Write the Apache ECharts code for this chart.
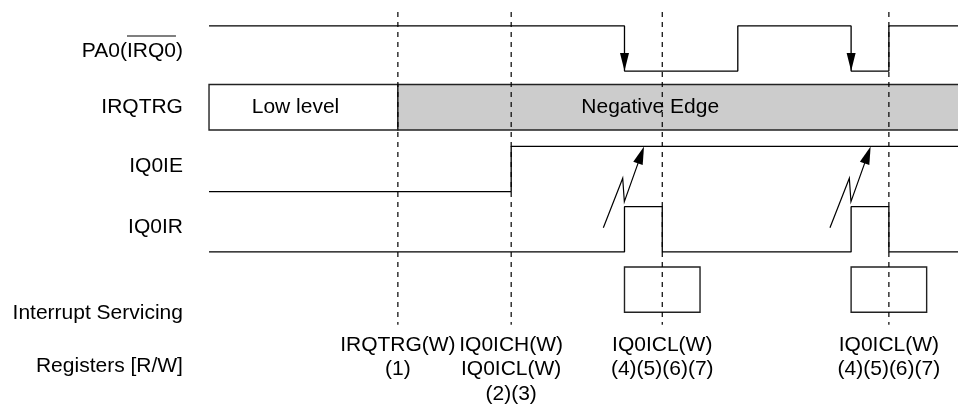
<!DOCTYPE html>
<html><head><meta charset="utf-8">
<script src="https://cdn.jsdelivr.net/npm/echarts@6/dist/echarts.min.js"></script>
<style>html,body{margin:0;padding:0;background:#fff}#c{width:958px;height:408px}</style>
</head><body><div id="c"></div>
<script>
// ---- data ----
const signalNames = ['PA0(IRQ0)', 'IRQTRG', 'IQ0IE', 'IQ0IR', 'Interrupt Servicing', 'Registers [R/W]'];
const timeEnd = 19.83;
const pa0Times = [0, 11, 14, 17, 18];
const pa0Levels = [1, 0, 1, 0, 1];
const irqtrgTimes = [0, 5];
const irqtrgLabels = ['Low level', 'Negative Edge'];
const irqtrgLabelAt = [2.29, 11.68];
const iq0ieTimes = [0, 8];
const iq0ieLevels = [0, 1];
const iq0irTimes = [0, 11, 12, 17, 18];
const iq0irLevels = [0, 1, 0, 1, 0];
const serviceStarts = [11, 17];
const serviceEnds = [13, 19];
const eventTimes = [5, 8, 12, 18];
const registerLines = [['IRQTRG(W)', '(1)'], ['IQ0ICH(W)', 'IQ0ICL(W)', '(2)(3)'], ['IQ0ICL(W)', '(4)(5)(6)(7)'], ['IQ0ICL(W)', '(4)(5)(6)(7)']];
const requestTimes = [11, 17];

// ---- layout (axis units) ----
const HIGH = 0.75;
const ROW_PA0 = 1, ROW_IE = 3, ROW_IR = 4, ROW_SVC = 5;
const IRQ_TOP = 1.222, IRQ_BOT = 1.977;
const labelY = [0.666, 1.6, 2.586, 3.595, 5.025, 5.889];
const labelX = -0.69;
const regY0 = 5.544, regDY = 0.41;
const dashTop = 0.02, dashBottom = 5.21;
const boltShape = [[-0.56, 3.598], [-0.047, 2.778], [-0.004, 3.167], [0.517, 2.25]];
const FONT = '"Liberation Sans", Arial, Helvetica, sans-serif';
const FS = 21;

function stepData(times, levels, base) {
  const pts = [];
  for (let i = 0; i < times.length; i++) {
    if (i > 0) pts.push([times[i], base - levels[i - 1] * HIGH]);
    pts.push([times[i], base - levels[i] * HIGH]);
  }
  pts.push([timeEnd, base - levels[levels.length - 1] * HIGH]);
  return pts;
}
function lineSeries(data) {
  return { type: 'line', data: data, symbol: 'none', showSymbol: false, silent: true, z: 3,
    lineStyle: { color: '#000', width: 1.3 } };
}
const mctx = document.createElement('canvas').getContext('2d');
mctx.font = FS + 'px ' + FONT;

const fallingEdges = [];
for (let i = 1; i < pa0Times.length; i++) if (pa0Levels[i - 1] === 1 && pa0Levels[i] === 0) fallingEdges.push([pa0Times[i]]);

const chart = echarts.init(document.getElementById('c'), null, { renderer: 'canvas' });
chart.setOption({
  animation: false,
  backgroundColor: '#fff',
  grid: { left: 0, right: 0, top: 0, bottom: 0 },
  xAxis: { type: 'value', min: -5.534, max: timeEnd, show: false },
  yAxis: { type: 'value', inverse: true, min: -0.18, max: 6.59, show: false },
  series: [
    // IRQTRG boxes
    { type: 'custom', z: 1, silent: true,
      data: irqtrgTimes.map((t, i) => [t, i + 1 < irqtrgTimes.length ? irqtrgTimes[i + 1] : timeEnd + 0.3, i]),
      renderItem: function (params, api) {
        const i = api.value(2);
        const p0 = api.coord([api.value(0), IRQ_TOP]);
        const p1 = api.coord([api.value(1), IRQ_BOT]);
        const lx = api.coord([irqtrgLabelAt[i], IRQ_TOP])[0];
        return { type: 'group', children: [
          { type: 'rect', shape: { x: p0[0], y: p0[1], width: p1[0] - p0[0], height: p1[1] - p0[1] },
            style: { fill: i === 0 ? '#fff' : '#cccccc', stroke: '#222', lineWidth: 1.4 } },
          { type: 'text', x: lx, y: (p0[1] + p1[1]) / 2,
            style: { text: irqtrgLabels[i], fontSize: FS, fontFamily: FONT, fill: '#000', align: 'center', verticalAlign: 'middle' } }
        ] };
      } },
    // Interrupt servicing boxes
    { type: 'custom', z: 1, silent: true,
      data: serviceStarts.map((t, i) => [t, serviceEnds[i]]),
      renderItem: function (params, api) {
        const p0 = api.coord([api.value(0), ROW_SVC - HIGH]);
        const p1 = api.coord([api.value(1), ROW_SVC]);
        return { type: 'rect', shape: { x: p0[0], y: p0[1], width: p1[0] - p0[0], height: p1[1] - p0[1] },
          style: { fill: '#fff', stroke: '#222', lineWidth: 1.4 } };
      } },
    lineSeries(stepData(pa0Times, pa0Levels, ROW_PA0)),
    lineSeries(stepData(iq0ieTimes, iq0ieLevels, ROW_IE)),
    lineSeries(stepData(iq0irTimes, iq0irLevels, ROW_IR)),
    // arrowheads on PA0 falling edges
    { type: 'custom', z: 4, silent: true, data: fallingEdges,
      renderItem: function (params, api) {
        const p = api.coord([api.value(0), ROW_PA0]);
        return { type: 'polygon', shape: { points: [[p[0] - 4.5, p[1] - 18], [p[0] + 4.5, p[1] - 18], [p[0], p[1]]] },
          style: { fill: '#000' } };
      } },
    // interrupt request bolts
    { type: 'custom', z: 4, silent: true, data: requestTimes.map(t => [t]),
      renderItem: function (params, api) {
        const t = api.value(0);
        const pts = boltShape.map(s => api.coord([t + s[0], s[1]]));
        const tip = pts[pts.length - 1], prev = pts[pts.length - 2];
        let dx = tip[0] - prev[0], dy = tip[1] - prev[1];
        const L = Math.sqrt(dx * dx + dy * dy); dx /= L; dy /= L;
        const bx = tip[0] - dx * 18, by = tip[1] - dy * 18;
        const nx = -dy * 5, ny = dx * 5;
        const lineEnd = [tip[0] - dx * 10, tip[1] - dy * 10];
        return { type: 'group', children: [
          { type: 'polyline', shape: { points: pts.slice(0, -1).concat([lineEnd]) }, style: { stroke: '#000', lineWidth: 1.2, fill: null } },
          { type: 'polygon', shape: { points: [[bx + nx, by + ny], [bx - nx, by - ny], tip] }, style: { fill: '#000' } }
        ] };
      } },
    // dashed event lines
    { type: 'custom', z: 5, silent: true, data: eventTimes.map(t => [t]),
      renderItem: function (params, api) {
        const a = api.coord([api.value(0), dashTop]);
        const b = api.coord([api.value(0), dashBottom]);
        return { type: 'line', shape: { x1: a[0], y1: a[1], x2: b[0], y2: b[1] },
          style: { stroke: '#000', lineWidth: 1.2, lineDash: [5, 5] } };
      } },
    // signal names
    { type: 'custom', z: 6, silent: true, data: signalNames.map((n, i) => [i]),
      renderItem: function (params, api) {
        const i = api.value(0);
        const p = api.coord([labelX, labelY[i]]);
        const children = [{ type: 'text', x: p[0], y: p[1],
          style: { text: signalNames[i], fontSize: FS, fontFamily: FONT, fill: '#000', align: 'right', verticalAlign: 'middle' } }];
        if (i === 0) {
          const wParen = mctx.measureText(')').width;
          const wBar = mctx.measureText('IRQ0').width;
          const x2 = p[0] - wParen, x1 = x2 - wBar, yy = p[1] - 15;
          children.push({ type: 'line', shape: { x1: x1, y1: yy, x2: x2, y2: yy }, style: { stroke: '#000', lineWidth: 1.2 } });
        }
        return { type: 'group', children: children };
      } },
    // register access annotations
    { type: 'custom', z: 6, silent: true, data: eventTimes.map((t, i) => [t, i]),
      renderItem: function (params, api) {
        const lines = registerLines[api.value(1)];
        return { type: 'group', children: lines.map((txt, k) => {
          const p = api.coord([api.value(0), regY0 + k * regDY]);
          return { type: 'text', x: p[0], y: p[1],
            style: { text: txt, fontSize: FS, fontFamily: FONT, fill: '#000', align: 'center', verticalAlign: 'middle' } };
        }) };
      } }
  ]
});
</script></body></html>
